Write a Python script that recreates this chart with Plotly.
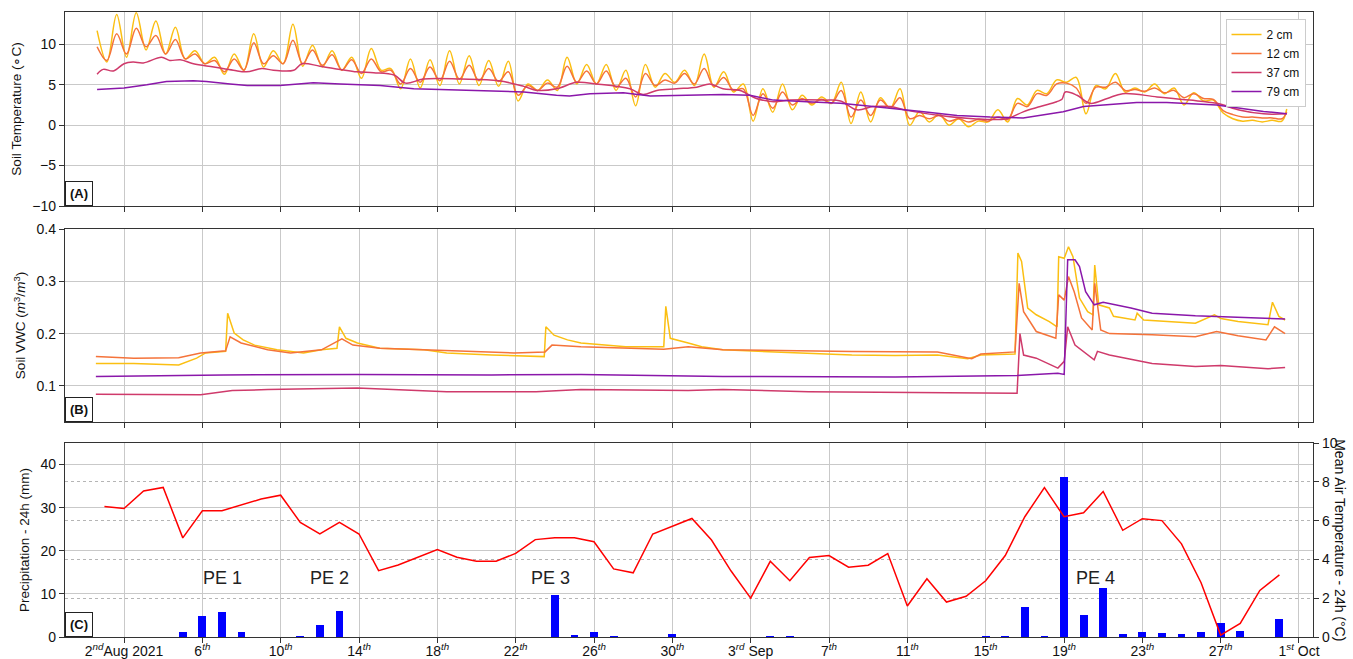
import pandas as pd
import plotly.graph_objects as go

# ---------------- DATA ----------------
depth_names = ["2 cm", "12 cm", "37 cm", "79 cm"]
depth_colors = ["#fbbf12", "#f5733a", "#cf3a6b", "#8a17aa"]

# Panel A: soil temperature (°C), 2 cm & 12 cm on a 12-hourly grid (03:00 / 15:00)
temp_grid_start = "2021-07-31 15:00"
temp_grid_end = "2021-09-30 03:00"
temp_last_time = "2021-09-30 09:00"

temp_2cm = [11.7,
            7.8, 13.7, 8.4, 13.9, 9.3, 12.9, 8.8, 12.1, 8.2, 9.2, 7.6, 8.4, 6.3, 8.8, 6.8, 11.3,
            7.2, 9.2, 7.6, 12.5, 7.3, 9.9, 7.2, 9.2, 6.8, 8.4, 5.8, 9.5, 6.8, 7.0, 4.5, 8.2,
            4.6, 8.1, 4.9, 9.2, 5.1, 8.6, 4.9, 8.0, 4.8, 7.9, 3.0, 5.1, 4.3, 5.6, 4.3, 8.4,
            5.1, 7.5, 5.1, 7.5, 4.3, 6.8, 2.4, 7.5, 4.7, 6.4, 5.3, 6.8, 4.9, 8.8,
            4.7, 6.6, 4.1, 5.1, 0.5, 4.5, 1.6, 5.1, 1.9, 3.7, 2.5, 3.5, 2.7, 5.3, 0.2, 4.1,
            0.4, 3.4, 2.1, 4.5, 0.0, 1.7, 0.4, 1.4, 0.0, 0.8, -0.2, 0.5, 0.4, 1.9, 0.4, 3.3,
            2.5, 4.3, 3.9, 5.6, 5.3, 5.9, 1.4, 4.9, 4.5, 6.4, 4.1, 4.6, 4.1, 5.1, 3.9, 4.6,
            2.5, 4.0, 3.0, 3.1, 1.5, 0.8, 0.5, 0.6, 0.4, 0.6, 0.5,
            2.0]

temp_12cm = [9.7,
             8.0, 11.3, 8.8, 12.0, 9.7, 11.1, 8.8, 10.6, 8.2, 8.8, 7.6, 8.0, 6.6, 8.2, 6.8, 10.2,
             7.6, 8.6, 7.6, 10.5, 7.6, 9.3, 7.4, 8.7, 6.8, 8.1, 6.4, 8.2, 6.6, 6.8, 5.1, 7.0,
             5.3, 7.2, 5.5, 7.9, 5.7, 7.4, 5.5, 7.0, 5.4, 6.6, 3.7, 4.9, 4.3, 5.2, 4.7, 7.3,
             5.3, 6.7, 5.1, 6.7, 4.7, 5.8, 3.5, 6.4, 4.9, 5.6, 5.2, 6.4, 5.1, 7.0,
             4.8, 5.9, 4.3, 4.5, 1.2, 3.9, 2.1, 4.1, 2.5, 3.3, 2.7, 3.2, 2.7, 4.3, 1.0, 3.1,
             1.2, 3.1, 2.1, 3.4, 0.8, 1.2, 0.8, 1.2, 0.5, 0.8, 0.4, 0.7, 0.5, 1.0, 0.7, 2.7,
             2.3, 3.9, 3.7, 5.1, 5.2, 4.6, 2.7, 4.7, 4.7, 5.3, 4.3, 4.4, 4.2, 4.6, 4.0, 4.3,
             3.4, 3.9, 3.3, 3.2, 1.8, 1.3, 1.0, 1.0, 0.9, 0.9, 0.8,
             1.6]

temp_37cm_time = ["2021-07-31 15:00", "2021-07-31 22:30", "2021-08-01 11:00", "2021-08-02 00:00",
                  "2021-08-02 11:00", "2021-08-02 23:40", "2021-08-03 22:00", "2021-08-04 08:00",
                  "2021-08-04 21:00", "2021-08-05 13:00", "2021-08-06 14:00", "2021-08-07 14:00",
                  "2021-08-08 06:00", "2021-08-09 01:00", "2021-08-09 15:00", "2021-08-10 16:00",
                  "2021-08-11 02:00", "2021-08-12 00:00", "2021-08-13 01:00", "2021-08-13 21:30",
                  "2021-08-14 18:00", "2021-08-15 19:00", "2021-08-16 09:00", "2021-08-17 07:00",
                  "2021-08-19 05:00", "2021-08-21 03:00", "2021-08-22 10:00", "2021-08-23 02:00",
                  "2021-08-24 02:00", "2021-08-25 03:00", "2021-08-26 03:00", "2021-08-27 20:00",
                  "2021-08-28 12:00", "2021-08-29 05:00", "2021-08-30 05:00", "2021-08-31 06:00",
                  "2021-08-31 22:00", "2021-09-01 14:00", "2021-09-02 11:00", "2021-09-03 07:00",
                  "2021-09-04 04:00", "2021-09-05 00:00", "2021-09-06 17:00", "2021-09-07 14:00",
                  "2021-09-08 10:00", "2021-09-09 06:00", "2021-09-10 03:00", "2021-09-11 01:00",
                  "2021-09-12 16:00", "2021-09-14 09:00", "2021-09-16 02:00", "2021-09-16 22:00",
                  "2021-09-17 19:00", "2021-09-18 15:00", "2021-09-18 21:30", "2021-09-19 01:30",
                  "2021-09-19 16:00", "2021-09-20 08:00", "2021-09-21 05:00", "2021-09-22 00:00",
                  "2021-09-23 18:00", "2021-09-25 10:00", "2021-09-26 19:00", "2021-09-28 00:00",
                  "2021-09-29 04:30", "2021-09-30 09:00"]
temp_37cm = [6.3, 6.9, 6.7, 7.6, 7.8, 7.7, 8.4, 8.0, 8.1, 7.6, 7.2, 6.8,
             6.6, 7.0, 6.8, 6.8, 7.6, 7.3, 6.9, 6.6, 6.5, 6.2, 5.2, 5.7,
             5.7, 5.5, 4.8, 4.3, 4.5, 5.3, 5.1, 4.5, 3.8, 4.3, 4.5, 4.7,
             5.1, 4.5, 4.3, 3.3, 2.9, 3.1, 3.1, 3.0, 1.9, 2.3, 2.3, 1.8,
             1.2, 0.8, 0.8, 1.65, 2.3, 2.9, 3.2, 4.1, 3.7, 2.7, 3.3, 3.9,
             3.5, 3.1, 2.7, 1.85, 1.4, 1.4]

temp_79cm_time = ["2021-07-31 15:00", "2021-08-02 00:00", "2021-08-03 04:00", "2021-08-04 04:00",
                  "2021-08-05 13:00", "2021-08-06 05:00", "2021-08-07 10:00", "2021-08-08 07:00",
                  "2021-08-09 23:00", "2021-08-11 16:00", "2021-08-13 01:00", "2021-08-15 02:00",
                  "2021-08-16 19:00", "2021-08-18 12:00", "2021-08-20 05:00", "2021-08-22 10:00",
                  "2021-08-24 02:00", "2021-08-24 18:00", "2021-08-25 19:00", "2021-08-27 12:00",
                  "2021-08-28 21:00", "2021-08-30 22:00", "2021-09-01 14:00", "2021-09-02 23:00",
                  "2021-09-04 04:00", "2021-09-05 21:00", "2021-09-07 14:00", "2021-09-09 06:00",
                  "2021-09-10 03:00", "2021-09-11 20:00", "2021-09-13 13:00", "2021-09-15 05:30",
                  "2021-09-16 22:00", "2021-09-17 19:00", "2021-09-18 23:00", "2021-09-20 00:00",
                  "2021-09-21 04:00", "2021-09-22 17:00", "2021-09-24 06:00", "2021-09-25 10:00",
                  "2021-09-26 19:00", "2021-09-28 00:00", "2021-09-29 04:30", "2021-09-30 09:00"]
temp_79cm = [4.4, 4.6, 5.0, 5.4, 5.5, 5.4, 5.1, 4.9, 4.9, 5.25, 5.1, 4.9,
             4.5, 4.4, 4.3, 4.1, 3.7, 3.6, 3.9, 4.0, 3.6, 3.7, 3.8, 3.7,
             3.1, 2.9, 2.7, 2.3, 2.1, 1.65, 1.2, 1.0, 0.9, 1.2, 1.65, 2.3,
             2.5, 2.8, 2.8, 2.7, 2.5, 2.1, 1.7, 1.4]

# Panel B: soil volumetric water content (m3/m3)
vwc_2cm_time = ["2021-07-31 13:30", "2021-08-02 12:00", "2021-08-04 19:00", "2021-08-05 17:00",
                "2021-08-06 04:00", "2021-08-07 04:30", "2021-08-07 07:00", "2021-08-07 15:00",
                "2021-08-08 02:00", "2021-08-08 16:00", "2021-08-09 19:30", "2021-08-11 04:00",
                "2021-08-12 02:00", "2021-08-12 21:00", "2021-08-13 00:00", "2021-08-13 08:00",
                "2021-08-13 22:00", "2021-08-15 01:30", "2021-08-17 08:00", "2021-08-18 11:30",
                "2021-08-20 18:30", "2021-08-23 01:00", "2021-08-23 11:00", "2021-08-23 13:00",
                "2021-08-23 23:00", "2021-08-24 15:30", "2021-08-25 08:00", "2021-08-27 15:00",
                "2021-08-29 13:30", "2021-08-29 16:00", "2021-08-29 21:30", "2021-08-30 19:30",
                "2021-08-31 12:00", "2021-09-01 14:00", "2021-09-03 19:00", "2021-09-05 23:00",
                "2021-09-08 04:00", "2021-09-10 09:00", "2021-09-12 13:00", "2021-09-14 02:00",
                "2021-09-14 18:00", "2021-09-16 12:00", "2021-09-16 15:30", "2021-09-16 20:00",
                "2021-09-17 03:30", "2021-09-17 14:00", "2021-09-18 06:00", "2021-09-18 15:30",
                "2021-09-18 17:30", "2021-09-19 00:15", "2021-09-19 05:30", "2021-09-19 11:00",
                "2021-09-19 19:00", "2021-09-20 05:00", "2021-09-20 11:30", "2021-09-20 13:40",
                "2021-09-20 18:30", "2021-09-21 07:40", "2021-09-21 12:40", "2021-09-22 15:00",
                "2021-09-22 17:40", "2021-09-23 01:40", "2021-09-24 14:40", "2021-09-25 17:00",
                "2021-09-26 16:20", "2021-09-27 00:15", "2021-09-27 21:20", "2021-09-29 10:00",
                "2021-09-29 15:30", "2021-09-29 23:20", "2021-09-30 07:00"]
vwc_2cm = [0.143, 0.143, 0.140, 0.153, 0.163, 0.166, 0.239, 0.201, 0.188, 0.178, 0.169, 0.163,
           0.169, 0.172, 0.213, 0.191, 0.182, 0.172, 0.169, 0.163, 0.159, 0.156, 0.156, 0.213,
           0.197, 0.188, 0.182, 0.175, 0.175, 0.252, 0.191, 0.182, 0.175, 0.169, 0.166, 0.163,
           0.159, 0.158, 0.159, 0.152, 0.159, 0.161, 0.354, 0.338, 0.249, 0.236, 0.223, 0.213,
           0.347, 0.344, 0.366, 0.347, 0.268, 0.242, 0.236, 0.331, 0.255, 0.249, 0.233, 0.226,
           0.239, 0.226, 0.223, 0.220, 0.236, 0.229, 0.223, 0.217, 0.260, 0.233, 0.226]

vwc_12cm_time = ["2021-07-31 13:30", "2021-08-02 12:00", "2021-08-04 19:00", "2021-08-05 22:00",
                 "2021-08-07 04:30", "2021-08-07 10:00", "2021-08-07 23:30", "2021-08-09 08:00",
                 "2021-08-10 12:00", "2021-08-12 02:00", "2021-08-13 03:00", "2021-08-13 16:30",
                 "2021-08-15 01:30", "2021-08-17 08:00", "2021-08-19 15:00", "2021-08-21 22:00",
                 "2021-08-23 12:00", "2021-08-23 20:30", "2021-08-25 08:00", "2021-08-27 15:00",
                 "2021-08-29 13:30", "2021-08-30 19:30", "2021-09-01 14:00", "2021-09-08 04:00",
                 "2021-09-12 13:00", "2021-09-14 07:00", "2021-09-14 18:00", "2021-09-16 12:00",
                 "2021-09-16 17:00", "2021-09-16 22:30", "2021-09-17 14:00", "2021-09-18 14:00",
                 "2021-09-18 17:30", "2021-09-19 00:15", "2021-09-19 05:30", "2021-09-19 12:30",
                 "2021-09-19 21:30", "2021-09-20 10:30", "2021-09-20 13:40", "2021-09-20 21:00",
                 "2021-09-21 07:40", "2021-09-23 12:00", "2021-09-25 17:00", "2021-09-26 19:00",
                 "2021-09-27 21:20", "2021-09-29 07:30", "2021-09-29 18:00", "2021-09-30 07:00"]
vwc_12cm = [0.156, 0.153, 0.154, 0.163, 0.167, 0.194, 0.182, 0.169, 0.163, 0.169, 0.190, 0.178,
            0.172, 0.169, 0.166, 0.163, 0.165, 0.178, 0.175, 0.172, 0.170, 0.175, 0.169, 0.166,
            0.165, 0.152, 0.161, 0.165, 0.296, 0.242, 0.204, 0.191, 0.274, 0.264, 0.309, 0.280,
            0.230, 0.207, 0.296, 0.207, 0.200, 0.198, 0.194, 0.204, 0.196, 0.188, 0.213, 0.200]

vwc_37cm_time = ["2021-07-31 13:30", "2021-08-05 22:00", "2021-08-07 12:40", "2021-08-09 08:00",
                 "2021-08-13 22:00", "2021-08-18 11:30", "2021-08-23 01:00", "2021-08-25 08:00",
                 "2021-08-30 19:30", "2021-09-01 14:00", "2021-09-05 23:00", "2021-09-10 09:00",
                 "2021-09-16 14:30", "2021-09-16 18:00", "2021-09-16 22:30", "2021-09-17 14:00",
                 "2021-09-18 16:30", "2021-09-19 00:15", "2021-09-19 04:30", "2021-09-19 13:30",
                 "2021-09-20 13:00", "2021-09-20 17:00", "2021-09-21 07:40", "2021-09-23 12:00",
                 "2021-09-25 17:00", "2021-09-27 00:15", "2021-09-29 10:00", "2021-09-30 07:00"]
vwc_37cm = [0.084, 0.083, 0.091, 0.093, 0.096, 0.089, 0.089, 0.093, 0.091, 0.093, 0.089, 0.088,
            0.086, 0.200, 0.159, 0.153, 0.134, 0.147, 0.213, 0.178, 0.150, 0.166, 0.159, 0.143,
            0.137, 0.139, 0.133, 0.135]

vwc_79cm_time = ["2021-07-31 13:30", "2021-08-07 02:00", "2021-08-13 22:00", "2021-08-20 18:30",
                 "2021-08-25 08:00", "2021-08-29 21:30", "2021-09-01 14:00", "2021-09-10 09:00",
                 "2021-09-16 14:30", "2021-09-18 16:30", "2021-09-19 00:15", "2021-09-19 04:30",
                 "2021-09-19 13:30", "2021-09-19 19:00", "2021-09-20 02:30", "2021-09-20 13:00",
                 "2021-09-21 00:00", "2021-09-22 10:00", "2021-09-23 12:00", "2021-09-25 17:00",
                 "2021-09-27 21:20", "2021-09-30 07:00"]
vwc_79cm = [0.118, 0.121, 0.122, 0.121, 0.122, 0.119, 0.118, 0.117, 0.120, 0.124, 0.122, 0.341,
            0.341, 0.328, 0.280, 0.255, 0.260, 0.249, 0.239, 0.234, 0.231, 0.228]

# Panel C: daily precipitation (mm) and mean air temperature (°C), 1 Aug - 30 Sep
daily_start = "2021-08-01"
daily_end = "2021-09-30"
precip_mm = [0, 0, 0, 0, 1.1, 4.9, 5.8, 1.2, 0, 0, 0.1, 2.7, 5.95, 0, 0, 0, 0, 0, 0, 0,
             0, 0, 0, 9.7, 0.5, 1.2, 0.2, 0, 0, 0.8, 0,
             0, 0, 0, 0.15, 0.15, 0, 0, 0, 0, 0, 0, 0, 0, 0, 0.15, 0.15, 6.9, 0.15, 37.1,
             5.2, 11.4, 0.8, 1.2, 1.0, 0.8, 1.2, 3.2, 1.5, 0, 4.1]
air_temp = [6.73, 6.62, 7.53, 7.71, 5.11, 6.51, 6.51, 6.82, 7.11, 7.31, 5.91, 5.31, 5.91,
            5.31, 3.42, 3.71, 4.11, 4.51, 4.11, 3.91, 3.91, 4.31, 5.02, 5.11, 5.11, 4.91,
            3.51, 3.31, 5.31, 5.71, 6.11,
            5.0, 3.4, 2.0, 3.9, 2.9, 4.1, 4.2, 3.6, 3.7, 4.3, 1.6, 3.0, 1.8, 2.1, 2.9, 4.2,
            6.2, 7.7, 6.2, 6.4, 7.5, 5.5, 6.1, 6.0, 4.8, 2.8, 0.1, 0.7, 2.4, 3.2]

pe_labels = ["PE 1", "PE 2", "PE 3", "PE 4"]
pe_times = ["2021-08-07 01:00", "2021-08-12 12:00", "2021-08-23 19:00", "2021-09-20 15:00"]
pe_level_mm = 13.7

tick_dates = ["2021-08-02", "2021-08-06", "2021-08-10", "2021-08-14", "2021-08-18", "2021-08-22",
              "2021-08-26", "2021-08-30", "2021-09-03", "2021-09-07", "2021-09-11", "2021-09-15",
              "2021-09-19", "2021-09-23", "2021-09-27", "2021-10-01"]
tick_labels = ["2<sup><i>nd</i></sup>Aug 2021", "6<sup><i>th</i></sup>", "10<sup><i>th</i></sup>",
               "14<sup><i>th</i></sup>", "18<sup><i>th</i></sup>", "22<sup><i>th</i></sup>",
               "26<sup><i>th</i></sup>", "30<sup><i>th</i></sup>", "3<sup><i>rd</i></sup> Sep",
               "7<sup><i>th</i></sup>", "11<sup><i>th</i></sup>", "15<sup><i>th</i></sup>",
               "19<sup><i>th</i></sup>", "23<sup><i>th</i></sup>", "27<sup><i>th</i></sup>",
               "1<sup><i>st</i></sup> Oct"]

# ---------------- FIGURE ----------------
FONT = "Liberation Sans, Arial, sans-serif"
GRID = "#c9c9c9"
FRAME = "#333333"

t_grid = pd.date_range(temp_grid_start, temp_grid_end, freq="12h").append(
    pd.DatetimeIndex([temp_last_time]))
t_daily = pd.date_range(daily_start, daily_end, freq="D")

fig = go.Figure()

# Panel A
for name, col, xs, ys, shp in [
    (depth_names[0], depth_colors[0], t_grid, temp_2cm, "spline"),
    (depth_names[1], depth_colors[1], t_grid, temp_12cm, "spline"),
    (depth_names[2], depth_colors[2], temp_37cm_time, temp_37cm, "spline"),
    (depth_names[3], depth_colors[3], temp_79cm_time, temp_79cm, "linear"),
]:
    fig.add_trace(go.Scatter(x=xs, y=ys, mode="lines", name=name,
                             line=dict(color=col, width=1.5, shape=shp, smoothing=1.0),
                             xaxis="x", yaxis="y"))

# Panel B
for col, xs, ys in [
    (depth_colors[0], vwc_2cm_time, vwc_2cm),
    (depth_colors[1], vwc_12cm_time, vwc_12cm),
    (depth_colors[2], vwc_37cm_time, vwc_37cm),
    (depth_colors[3], vwc_79cm_time, vwc_79cm),
]:
    fig.add_trace(go.Scatter(x=xs, y=ys, mode="lines", showlegend=False,
                             line=dict(color=col, width=1.5),
                             xaxis="x2", yaxis="y2"))

# Panel C
fig.add_trace(go.Bar(x=t_daily, y=precip_mm, width=0.4 * 86400000, marker_color="#0000ff",
                     marker_line_width=0, showlegend=False, xaxis="x3", yaxis="y3"))
fig.add_trace(go.Scatter(x=t_daily, y=air_temp, mode="lines", showlegend=False,
                         line=dict(color="#ff0000", width=1.5), xaxis="x3", yaxis="y4"))

x_range = ["2021-07-29 23:40", "2021-10-01 17:10"]
xcommon = dict(range=x_range, tickmode="array", tickvals=tick_dates, ticktext=tick_labels,
               showgrid=True, gridcolor=GRID, gridwidth=1, ticks="outside", ticklen=5,
               tickcolor=FRAME, showline=True, mirror=True, linecolor=FRAME, linewidth=1.3,
               zeroline=False, automargin=False, domain=[0, 1],
               tickfont=dict(size=14, color="#111"))
ycommon = dict(showgrid=True, gridcolor=GRID, gridwidth=1, ticks="outside", ticklen=5,
               tickcolor=FRAME, showline=True, mirror=True, linecolor=FRAME, linewidth=1.3,
               zeroline=False, automargin=False, tickfont=dict(size=14, color="#111"))

fig.update_layout(
    width=1353, height=659,
    margin=dict(l=65, r=40, t=12, b=22),
    paper_bgcolor="white", plot_bgcolor="white",
    font=dict(family=FONT, size=13, color="#111"),
    bargap=0,
    xaxis=dict(**xcommon, anchor="y", showticklabels=False),
    xaxis2=dict(**xcommon, anchor="y2", matches="x", showticklabels=False),
    xaxis3=dict(**xcommon, anchor="y3", matches="x", showticklabels=True,
                ticklabelstandoff=-4),
    yaxis=dict(**ycommon, domain=[0.6896, 1.0], range=[-10, 14], tickvals=[-10, -5, 0, 5, 10],
               title=dict(text="Soil Temperature (∘C)", font=dict(size=13.5), standoff=7)),
    yaxis2=dict(**ycommon, domain=[0.344, 0.6528], range=[0.031, 0.4],
                tickvals=[0.1, 0.2, 0.3, 0.4], ticktext=["0.1", "0.2", "0.3", "0.4"],
                title=dict(text="Soil VWC (<i>m</i><sup>3</sup>/<i>m</i><sup>3</sup>)",
                           font=dict(size=13.5), standoff=7)),
    yaxis3=dict(**ycommon, domain=[0.0, 0.3104], range=[0, 45], tickvals=[0, 10, 20, 30, 40],
                anchor="x3",
                title=dict(text="Precipitation - 24h (mm)", font=dict(size=13.5), standoff=7)),
    yaxis4=dict(overlaying="y3", side="right", anchor="x3", range=[0, 10],
                tickvals=[0, 2, 4, 6, 8, 10], showgrid=True, gridcolor="#b5b5b5",
                griddash="dot", gridwidth=1, ticks="outside", ticklen=5, tickcolor=FRAME,
                showline=True, linecolor=FRAME, linewidth=1.3, zeroline=False,
                automargin=False, tickfont=dict(size=14, color="#111")),
    legend=dict(x=0.994, y=0.989, xanchor="right", yanchor="top", bgcolor="white",
                bordercolor="#cccccc", borderwidth=1, font=dict(size=12), itemwidth=30,
                tracegroupgap=0),
)

# Panel tags
for tag, xr, yr in [("(A)", "x domain", "y domain"), ("(B)", "x2 domain", "y2 domain"),
                    ("(C)", "x3 domain", "y3 domain")]:
    fig.add_annotation(text=f"<b>{tag}</b>", xref=xr, yref=yr, x=0, y=0, xanchor="left",
                       yanchor="bottom", showarrow=False, bgcolor="white", bordercolor="#222",
                       borderwidth=1, borderpad=4, font=dict(size=13, color="#111"))

# Precipitation event labels
for lab, t in zip(pe_labels, pe_times):
    fig.add_annotation(text=lab, x=t, y=pe_level_mm, xref="x3", yref="y3", showarrow=False,
                       font=dict(size=18, color="#222"))

# Right axis title (reads top-to-bottom)
fig.add_annotation(text="Mean Air Temperature - 24h (°C)", xref="paper", yref="paper",
                   x=1.0296, y=0.155, xanchor="right", yanchor="middle", textangle=90,
                   showarrow=False, font=dict(size=14, color="#111"))

fig.write_html("out.html", config={"displayModeBar": False},
               post_script="document.body.style.margin='0px';")
